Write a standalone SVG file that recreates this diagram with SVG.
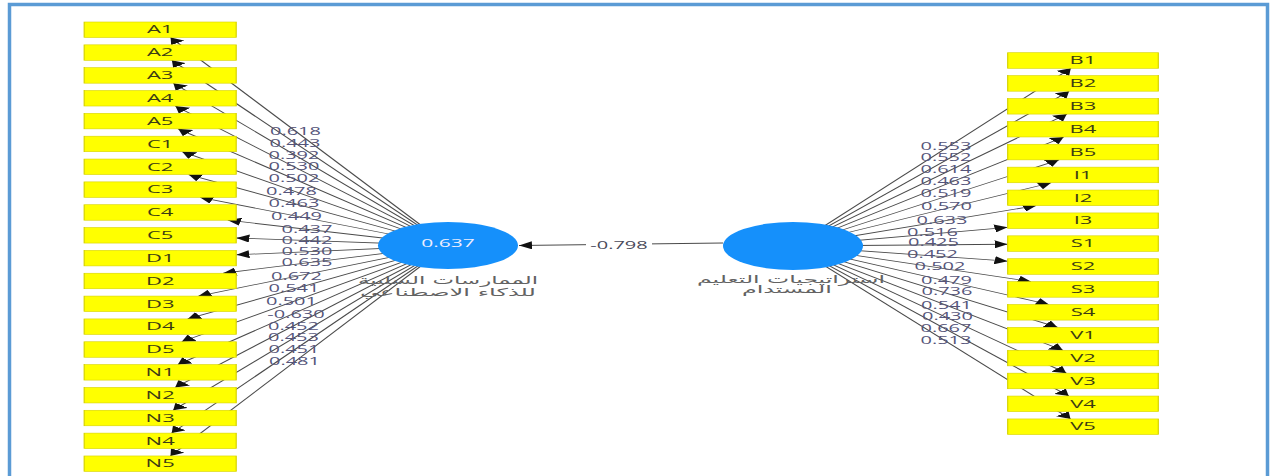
<svg xmlns="http://www.w3.org/2000/svg" width="1274" height="476" viewBox="0 0 1274 476">
<style>
.ln{stroke:#4a4a4a;stroke-width:0.8;fill:none}
.box{fill:#ffff00;stroke:#d6d200;stroke-width:0.6}
.bt{font-family:"Open Sans","Liberation Sans",sans-serif;font-size:11px;fill:#3c3c14;text-anchor:middle}
.lb{font-family:"Open Sans","Liberation Sans",sans-serif;font-size:10px;fill:#55557a;text-anchor:middle}
.ar{font-family:"DejaVu Sans","Noto Sans",sans-serif;font-size:11px;fill:#626262;text-anchor:middle}
.lv{fill:#1590fb}
</style>
<defs>
<marker id="ah" markerUnits="userSpaceOnUse" markerWidth="7" markerHeight="8" refX="6.5" refY="4" orient="auto" viewBox="0 0 7 8"><path d="M0,0 L6.5,4 L0,8 Z" fill="#111"/></marker>
</defs>
<rect width="1274" height="476" fill="#fff"/>
<g transform="scale(2,1)">
<g id="connectors">
<line class="ln" x1="224" y1="245.5" x2="85.31" y2="37.5" marker-end="url(#ah)"/>
<line class="ln" x1="224" y1="245.5" x2="85.93" y2="60.34" marker-end="url(#ah)"/>
<line class="ln" x1="224" y1="245.5" x2="86.71" y2="83.18" marker-end="url(#ah)"/>
<line class="ln" x1="224" y1="245.5" x2="87.72" y2="106.02" marker-end="url(#ah)"/>
<line class="ln" x1="224" y1="245.5" x2="89.11" y2="128.86" marker-end="url(#ah)"/>
<line class="ln" x1="224" y1="245.5" x2="91.13" y2="151.7" marker-end="url(#ah)"/>
<line class="ln" x1="224" y1="245.5" x2="94.31" y2="174.54" marker-end="url(#ah)"/>
<line class="ln" x1="224" y1="245.5" x2="100.1" y2="197.38" marker-end="url(#ah)"/>
<line class="ln" x1="224" y1="245.5" x2="113.9" y2="220.22" marker-end="url(#ah)"/>
<line class="ln" x1="224" y1="245.5" x2="118.15" y2="238" marker-end="url(#ah)"/>
<line class="ln" x1="224" y1="245.5" x2="118.15" y2="254.81" marker-end="url(#ah)"/>
<line class="ln" x1="224" y1="245.5" x2="111.57" y2="273.24" marker-end="url(#ah)"/>
<line class="ln" x1="224" y1="245.5" x2="99.26" y2="296.08" marker-end="url(#ah)"/>
<line class="ln" x1="224" y1="245.5" x2="93.88" y2="318.92" marker-end="url(#ah)"/>
<line class="ln" x1="224" y1="245.5" x2="90.87" y2="341.76" marker-end="url(#ah)"/>
<line class="ln" x1="224" y1="245.5" x2="88.94" y2="364.6" marker-end="url(#ah)"/>
<line class="ln" x1="224" y1="245.5" x2="87.6" y2="387.44" marker-end="url(#ah)"/>
<line class="ln" x1="224" y1="245.5" x2="86.61" y2="410.28" marker-end="url(#ah)"/>
<line class="ln" x1="224" y1="245.5" x2="85.86" y2="433.12" marker-end="url(#ah)"/>
<line class="ln" x1="224" y1="245.5" x2="85.26" y2="455.96" marker-end="url(#ah)"/>
<line class="ln" x1="396.5" y1="246" x2="535.4" y2="68.3" marker-end="url(#ah)"/>
<line class="ln" x1="396.5" y1="246" x2="534.54" y2="91.19" marker-end="url(#ah)"/>
<line class="ln" x1="396.5" y1="246" x2="533.4" y2="114.08" marker-end="url(#ah)"/>
<line class="ln" x1="396.5" y1="246" x2="531.82" y2="136.97" marker-end="url(#ah)"/>
<line class="ln" x1="396.5" y1="246" x2="529.46" y2="159.86" marker-end="url(#ah)"/>
<line class="ln" x1="396.5" y1="246" x2="525.58" y2="182.75" marker-end="url(#ah)"/>
<line class="ln" x1="396.5" y1="246" x2="518.02" y2="205.64" marker-end="url(#ah)"/>
<line class="ln" x1="396.5" y1="246" x2="503.8" y2="227.3" marker-end="url(#ah)"/>
<line class="ln" x1="396.5" y1="246" x2="503.8" y2="244.24" marker-end="url(#ah)"/>
<line class="ln" x1="396.5" y1="246" x2="503.8" y2="261.18" marker-end="url(#ah)"/>
<line class="ln" x1="396.5" y1="246" x2="515.44" y2="281.6" marker-end="url(#ah)"/>
<line class="ln" x1="396.5" y1="246" x2="524.44" y2="304.49" marker-end="url(#ah)"/>
<line class="ln" x1="396.5" y1="246" x2="528.82" y2="327.38" marker-end="url(#ah)"/>
<line class="ln" x1="396.5" y1="246" x2="531.41" y2="350.27" marker-end="url(#ah)"/>
<line class="ln" x1="396.5" y1="246" x2="533.12" y2="373.16" marker-end="url(#ah)"/>
<line class="ln" x1="396.5" y1="246" x2="534.34" y2="396.05" marker-end="url(#ah)"/>
<line class="ln" x1="396.5" y1="246" x2="535.24" y2="418.94" marker-end="url(#ah)"/>
<line class="ln" x1="361.5" y1="243" x2="259.5" y2="245.5" marker-end="url(#ah)"/>
<rect x="293" y="238.5" width="33" height="14" fill="#fff"/>
<text class="lb" x="309.5" y="249.3" style="fill:#4a4a5a">-0.798</text>
<text class="lb" x="147.75" y="135.3">0.618</text>
<text class="lb" x="147.5" y="146.9">0.443</text>
<text class="lb" x="147" y="158.6">0.392</text>
<text class="lb" x="147" y="170.3">0.530</text>
<text class="lb" x="147" y="182.3">0.502</text>
<text class="lb" x="145.75" y="194.6">0.478</text>
<text class="lb" x="147" y="206.6">0.463</text>
<text class="lb" x="148.25" y="219.6">0.449</text>
<text class="lb" x="153.5" y="232.6">0.437</text>
<text class="lb" x="153.5" y="244.3">0.442</text>
<text class="lb" x="153.5" y="255.3">0.530</text>
<text class="lb" x="153.5" y="266.3">0.635</text>
<text class="lb" x="148.25" y="279.6">0.672</text>
<text class="lb" x="147" y="292.3">0.541</text>
<text class="lb" x="145.75" y="305.3">0.501</text>
<text class="lb" x="148" y="317.6">-0.630</text>
<text class="lb" x="146.75" y="329.6">0.452</text>
<text class="lb" x="146.75" y="341.3">0.453</text>
<text class="lb" x="147" y="352.9">0.451</text>
<text class="lb" x="147.25" y="364.6">0.481</text>
<text class="lb" x="473" y="149.6">0.553</text>
<text class="lb" x="473" y="160.9">0.552</text>
<text class="lb" x="473" y="172.9">0.614</text>
<text class="lb" x="473" y="184.9">0.463</text>
<text class="lb" x="473" y="197.1">0.519</text>
<text class="lb" x="473.25" y="209.6">0.570</text>
<text class="lb" x="471" y="223.6">0.633</text>
<text class="lb" x="466.25" y="236.3">0.516</text>
<text class="lb" x="466.75" y="246.3">0.425</text>
<text class="lb" x="466.25" y="257.6">0.452</text>
<text class="lb" x="470" y="270.3">0.502</text>
<text class="lb" x="473.25" y="283.6">0.479</text>
<text class="lb" x="473.5" y="295.3">0.736</text>
<text class="lb" x="473.25" y="308.6">0.541</text>
<text class="lb" x="473.75" y="320.3">0.430</text>
<text class="lb" x="473" y="332.1">0.667</text>
<text class="lb" x="473" y="344.3">0.513</text>
</g>
<g id="lv-practices">
<ellipse class="lv" cx="224" cy="245.5" rx="35" ry="23.5"/>
<text class="lb" x="224" y="247.2" style="fill:#eeeeff;font-size:10.5px">0.637</text>
<text class="ar" x="224" y="284" textLength="90" lengthAdjust="spacingAndGlyphs">الممارسات السلبية</text>
<text class="ar" x="224" y="296" textLength="88" lengthAdjust="spacingAndGlyphs">للذكاء الاصطناعي</text>
</g>
<g id="lv-strategies">
<ellipse class="lv" cx="396.5" cy="246" rx="35" ry="24"/>
<text class="ar" x="395.5" y="283" textLength="94" lengthAdjust="spacingAndGlyphs">استراتيجيات التعليم</text>
<text class="ar" x="393.5" y="293.5" textLength="45" lengthAdjust="spacingAndGlyphs">المستدام</text>
</g>
<g id="A1"><rect class="box" x="42.1" y="22" width="76" height="15.5"/><text class="bt" x="80.1" y="33.5">A1</text></g>
<g id="A2"><rect class="box" x="42.1" y="44.84" width="76" height="15.5"/><text class="bt" x="80.1" y="56.34">A2</text></g>
<g id="A3"><rect class="box" x="42.1" y="67.68" width="76" height="15.5"/><text class="bt" x="80.1" y="79.18">A3</text></g>
<g id="A4"><rect class="box" x="42.1" y="90.52" width="76" height="15.5"/><text class="bt" x="80.1" y="102.02">A4</text></g>
<g id="A5"><rect class="box" x="42.1" y="113.36" width="76" height="15.5"/><text class="bt" x="80.1" y="124.86">A5</text></g>
<g id="C1"><rect class="box" x="42.1" y="136.2" width="76" height="15.5"/><text class="bt" x="80.1" y="147.7">C1</text></g>
<g id="C2"><rect class="box" x="42.1" y="159.04" width="76" height="15.5"/><text class="bt" x="80.1" y="170.54">C2</text></g>
<g id="C3"><rect class="box" x="42.1" y="181.88" width="76" height="15.5"/><text class="bt" x="80.1" y="193.38">C3</text></g>
<g id="C4"><rect class="box" x="42.1" y="204.72" width="76" height="15.5"/><text class="bt" x="80.1" y="216.22">C4</text></g>
<g id="C5"><rect class="box" x="42.1" y="227.56" width="76" height="15.5"/><text class="bt" x="80.1" y="239.06">C5</text></g>
<g id="D1"><rect class="box" x="42.1" y="250.4" width="76" height="15.5"/><text class="bt" x="80.1" y="261.9">D1</text></g>
<g id="D2"><rect class="box" x="42.1" y="273.24" width="76" height="15.5"/><text class="bt" x="80.1" y="284.74">D2</text></g>
<g id="D3"><rect class="box" x="42.1" y="296.08" width="76" height="15.5"/><text class="bt" x="80.1" y="307.58">D3</text></g>
<g id="D4"><rect class="box" x="42.1" y="318.92" width="76" height="15.5"/><text class="bt" x="80.1" y="330.42">D4</text></g>
<g id="D5"><rect class="box" x="42.1" y="341.76" width="76" height="15.5"/><text class="bt" x="80.1" y="353.26">D5</text></g>
<g id="N1"><rect class="box" x="42.1" y="364.6" width="76" height="15.5"/><text class="bt" x="80.1" y="376.1">N1</text></g>
<g id="N2"><rect class="box" x="42.1" y="387.44" width="76" height="15.5"/><text class="bt" x="80.1" y="398.94">N2</text></g>
<g id="N3"><rect class="box" x="42.1" y="410.28" width="76" height="15.5"/><text class="bt" x="80.1" y="421.78">N3</text></g>
<g id="N4"><rect class="box" x="42.1" y="433.12" width="76" height="15.5"/><text class="bt" x="80.1" y="444.62">N4</text></g>
<g id="N5"><rect class="box" x="42.1" y="455.96" width="76" height="15.5"/><text class="bt" x="80.1" y="467.46">N5</text></g>
<g id="B1"><rect class="box" x="503.85" y="52.7" width="75.3" height="15.6"/><text class="bt" x="541.5" y="64.2">B1</text></g>
<g id="B2"><rect class="box" x="503.85" y="75.59" width="75.3" height="15.6"/><text class="bt" x="541.5" y="87.09">B2</text></g>
<g id="B3"><rect class="box" x="503.85" y="98.48" width="75.3" height="15.6"/><text class="bt" x="541.5" y="109.98">B3</text></g>
<g id="B4"><rect class="box" x="503.85" y="121.37" width="75.3" height="15.6"/><text class="bt" x="541.5" y="132.87">B4</text></g>
<g id="B5"><rect class="box" x="503.85" y="144.26" width="75.3" height="15.6"/><text class="bt" x="541.5" y="155.76">B5</text></g>
<g id="I1"><rect class="box" x="503.85" y="167.15" width="75.3" height="15.6"/><text class="bt" x="541.5" y="178.65">I1</text></g>
<g id="I2"><rect class="box" x="503.85" y="190.04" width="75.3" height="15.6"/><text class="bt" x="541.5" y="201.54">I2</text></g>
<g id="I3"><rect class="box" x="503.85" y="212.93" width="75.3" height="15.6"/><text class="bt" x="541.5" y="224.43">I3</text></g>
<g id="S1"><rect class="box" x="503.85" y="235.82" width="75.3" height="15.6"/><text class="bt" x="541.5" y="247.32">S1</text></g>
<g id="S2"><rect class="box" x="503.85" y="258.71" width="75.3" height="15.6"/><text class="bt" x="541.5" y="270.21">S2</text></g>
<g id="S3"><rect class="box" x="503.85" y="281.6" width="75.3" height="15.6"/><text class="bt" x="541.5" y="293.1">S3</text></g>
<g id="S4"><rect class="box" x="503.85" y="304.49" width="75.3" height="15.6"/><text class="bt" x="541.5" y="315.99">S4</text></g>
<g id="V1"><rect class="box" x="503.85" y="327.38" width="75.3" height="15.6"/><text class="bt" x="541.5" y="338.88">V1</text></g>
<g id="V2"><rect class="box" x="503.85" y="350.27" width="75.3" height="15.6"/><text class="bt" x="541.5" y="361.77">V2</text></g>
<g id="V3"><rect class="box" x="503.85" y="373.16" width="75.3" height="15.6"/><text class="bt" x="541.5" y="384.66">V3</text></g>
<g id="V4"><rect class="box" x="503.85" y="396.05" width="75.3" height="15.6"/><text class="bt" x="541.5" y="407.55">V4</text></g>
<g id="V5"><rect class="box" x="503.85" y="418.94" width="75.3" height="15.6"/><text class="bt" x="541.5" y="430.44">V5</text></g>
</g>
<rect x="9.5" y="4.5" width="1258" height="490" fill="none" stroke="#5b9bd5" stroke-width="3.5"/>
</svg>
